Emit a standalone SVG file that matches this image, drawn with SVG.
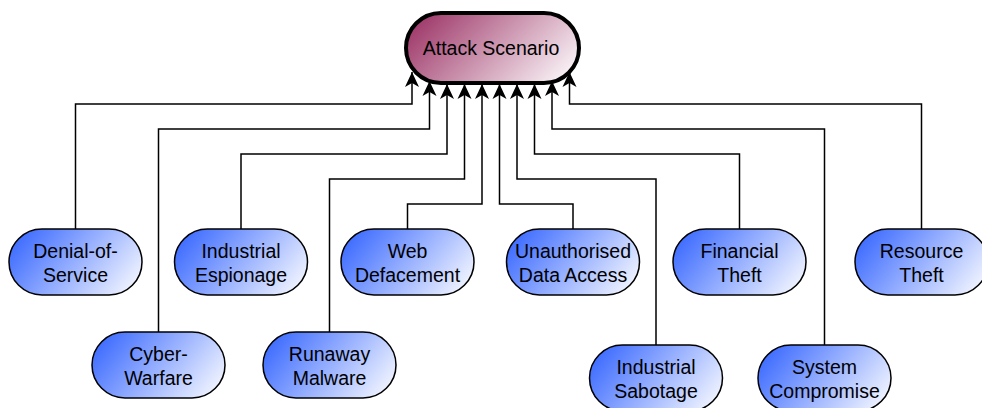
<svg xmlns="http://www.w3.org/2000/svg" width="982" height="408" viewBox="0 0 982 408">
  <defs>
    <linearGradient id="gBlue" x1="0" y1="0.3" x2="1" y2="0.7">
      <stop offset="0" stop-color="#3f6dff"/>
      <stop offset="1" stop-color="#eef2ff"/>
    </linearGradient>
    <linearGradient id="gRed" x1="0" y1="0.3" x2="1" y2="0.7">
      <stop offset="0" stop-color="#a03c6c"/>
      <stop offset="1" stop-color="#f8f0f4"/>
    </linearGradient>
    <marker id="arrow" markerUnits="userSpaceOnUse" markerWidth="20" markerHeight="20" refX="0" refY="0" orient="auto" overflow="visible">
      <path d="M0,0 L-15,-7 L-11,0 L-15,7 Z" fill="#000"/>
    </marker>
  </defs>
  <style>
    .leaf { fill: url(#gBlue); stroke: #000; stroke-width: 1.5; }
    .root { fill: url(#gRed); stroke: #000; stroke-width: 4; }
    .lbl { font-family: "Liberation Sans", Arial, sans-serif; font-size: 19.5px; fill: #000; text-anchor: middle; }
    .conn { fill: none; stroke: #000; stroke-width: 1.5; marker-end: url(#arrow); }
  </style>
  <rect width="982" height="408" fill="#fff"/>

  <g id="connectors">
    <path class="conn" d="M75.5,229 V104 H412 V72"/>
    <path class="conn" d="M158.5,332 V129 H429.5 V81"/>
    <path class="conn" d="M241,229 V154 H447 V84"/>
    <path class="conn" d="M329.5,332 V179 H464.5 V84"/>
    <path class="conn" d="M407.5,229 V204 H482 V84"/>
    <path class="conn" d="M573,229 V204 H499.5 V84"/>
    <path class="conn" d="M656,345 V179 H517 V84"/>
    <path class="conn" d="M739.5,229 V154 H534.5 V84"/>
    <path class="conn" d="M824.5,345 V129 H552 V81"/>
    <path class="conn" d="M921.5,229 V104 H569.5 V72"/>
  </g>

  <g id="attack-scenario">
    <rect class="root" x="406" y="13" width="173" height="70" rx="35" ry="35"/>
    <text class="lbl" x="491" y="55">Attack Scenario</text>
  </g>

  <g id="denial-of-service">
    <rect class="leaf" x="9" y="229" width="133" height="66" rx="33" ry="33"/>
    <text class="lbl" x="75.5" y="258">Denial-of-<tspan x="75.5" dy="24">Service</tspan></text>
  </g>
  <g id="industrial-espionage">
    <rect class="leaf" x="174.5" y="229" width="133" height="66" rx="33" ry="33"/>
    <text class="lbl" x="241" y="258">Industrial<tspan x="241" dy="24">Espionage</tspan></text>
  </g>
  <g id="web-defacement">
    <rect class="leaf" x="341" y="229" width="133" height="66" rx="33" ry="33"/>
    <text class="lbl" x="407.5" y="258">Web<tspan x="407.5" dy="24">Defacement</tspan></text>
  </g>
  <g id="unauthorised-data-access">
    <rect class="leaf" x="506.5" y="229" width="133" height="66" rx="33" ry="33"/>
    <text class="lbl" x="573" y="258">Unauthorised<tspan x="573" dy="24">Data Access</tspan></text>
  </g>
  <g id="financial-theft">
    <rect class="leaf" x="673" y="229" width="133" height="66" rx="33" ry="33"/>
    <text class="lbl" x="739.5" y="258">Financial<tspan x="739.5" dy="24">Theft</tspan></text>
  </g>
  <g id="resource-theft">
    <rect class="leaf" x="855" y="229" width="133" height="66" rx="33" ry="33"/>
    <text class="lbl" x="921.5" y="258">Resource<tspan x="921.5" dy="24">Theft</tspan></text>
  </g>
  <g id="cyber-warfare">
    <rect class="leaf" x="92" y="332" width="133" height="66" rx="33" ry="33"/>
    <text class="lbl" x="158.5" y="361">Cyber-<tspan x="158.5" dy="24">Warfare</tspan></text>
  </g>
  <g id="runaway-malware">
    <rect class="leaf" x="263" y="332" width="133" height="66" rx="33" ry="33"/>
    <text class="lbl" x="329.5" y="361">Runaway<tspan x="329.5" dy="24">Malware</tspan></text>
  </g>
  <g id="industrial-sabotage">
    <rect class="leaf" x="589.5" y="345" width="133" height="66" rx="33" ry="33"/>
    <text class="lbl" x="656" y="374">Industrial<tspan x="656" dy="24">Sabotage</tspan></text>
  </g>
  <g id="system-compromise">
    <rect class="leaf" x="758" y="345" width="133" height="66" rx="33" ry="33"/>
    <text class="lbl" x="824.5" y="374">System<tspan x="824.5" dy="24">Compromise</tspan></text>
  </g>
</svg>
